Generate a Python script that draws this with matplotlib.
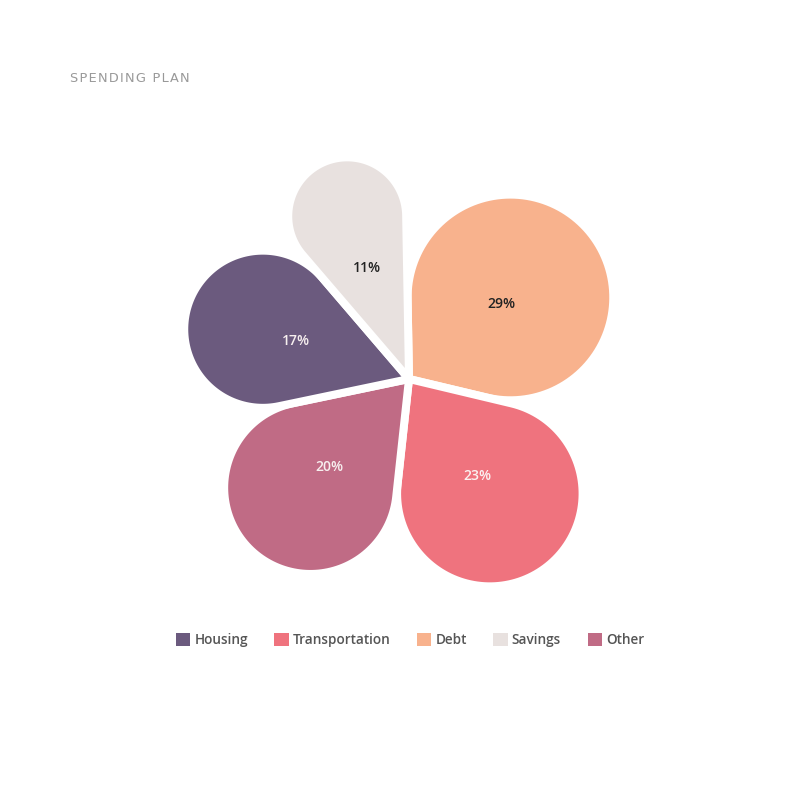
import numpy as np
import matplotlib
matplotlib.use("Agg")
import matplotlib.pyplot as plt
from matplotlib.patches import Polygon, Patch

# legend order and colours
categories = ["Housing", "Transportation", "Debt", "Savings", "Other"]
shares = [17, 23, 29, 11, 20]
colors = ["#6b5a7e", "#ef737e", "#f8b28d", "#e8e1df", "#c06b85"]
label_colors = ["#f7efef", "#fbf1f1", "#222222", "#222222", "#f7efef"]

# pie geometry in pixels (axes uses pixel coords, y down)
cx, cy = 409, 379
radius = 233
start = -1.0  # degrees clockwise from 12 o'clock
gap = 8  # white gap in px


def unit(theta):
    t = np.radians(theta)
    return np.array([np.sin(t), -np.cos(t)])


def petal(center, mid, half):
    # teardrop: apex at center, circle tangent to both wedge edges
    s = np.sin(np.radians(half))
    d = radius / (1 + s)
    r = d * s
    o = center + d * unit(mid)
    ts = np.linspace(mid - half - 90, mid + half + 90, 120)
    arc = [o + r * unit(t) for t in ts]
    return np.vstack([center, arc])


fig = plt.figure(figsize=(8, 8), dpi=100)
ax = fig.add_axes([0, 0, 1, 1])
ax.set_xlim(0, 800)
ax.set_ylim(800, 0)
ax.axis("off")

# slices go clockwise, largest first
order = np.argsort(shares)[::-1]
c = np.array([cx, cy], dtype=float)
angle = start
lw = gap * 72 / 100
for i in order:
    span = shares[i] / sum(shares) * 360
    mid = angle + span / 2
    pts = petal(c, mid, span / 2)
    ax.add_patch(Polygon(pts, closed=True, facecolor=colors[i], edgecolor="white",
                         linewidth=lw, joinstyle="round"))
    lx, ly = c + 119 * unit(mid)
    ax.text(lx, ly, f"{shares[i]}%", ha="center", va="center", fontsize=10,
            fontfamily="Open Sans", fontweight="semibold", color=label_colors[i])
    angle += span

ax.text(70, 78, "\u200a".join("SPENDING PLAN"), ha="left", va="center", fontsize=9.3,
        fontfamily="DejaVu Sans", color="#999999")

handles = [Patch(facecolor=col, edgecolor="none") for col in colors]
fig.legend(handles, categories, loc="center", bbox_to_anchor=(0.5125, 0.2),
           ncol=5, frameon=False, handlelength=1.05, handleheight=1.05,
           handletextpad=0.3, columnspacing=1.95,
           prop={"family": "Open Sans", "weight": "semibold", "size": 9.8},
           labelcolor="#555555")

fig.savefig("out.png", dpi=100, facecolor="white")
